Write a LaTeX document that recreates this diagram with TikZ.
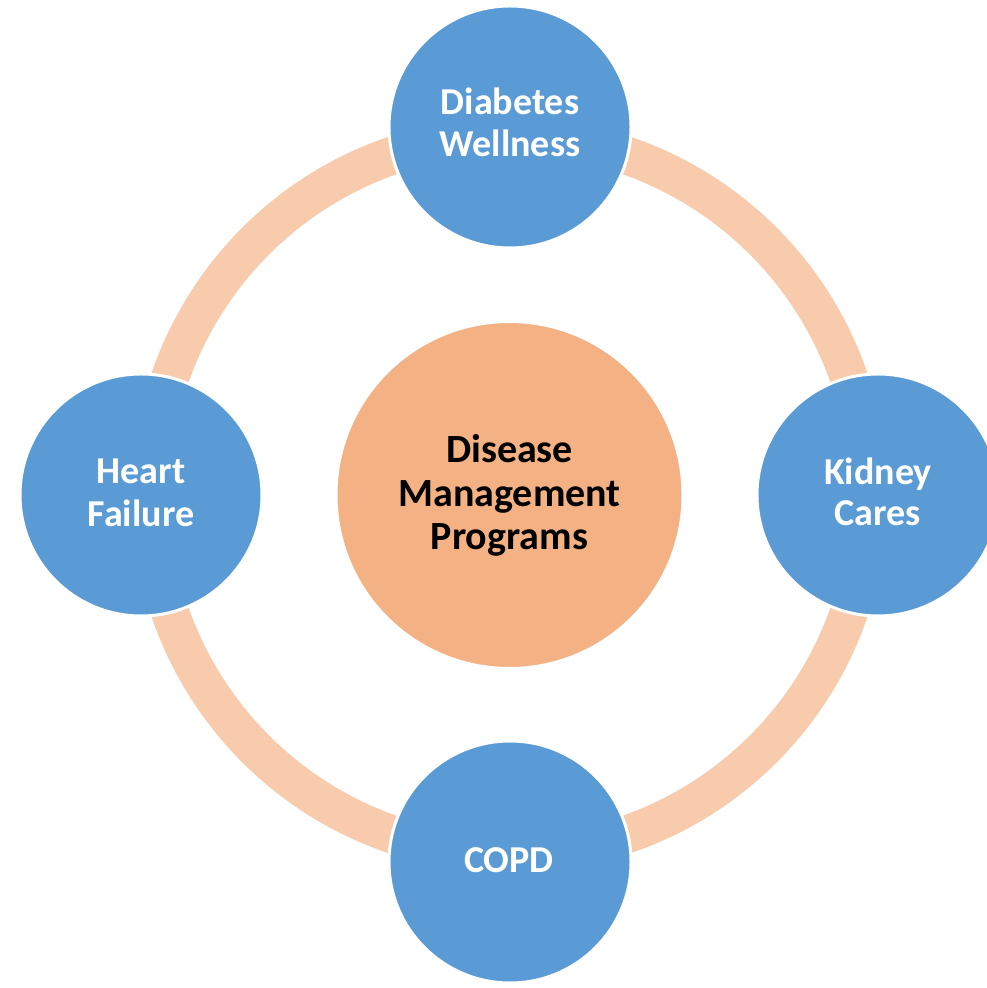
\documentclass[tikz,border=0pt]{standalone}
\usepackage{fontspec}
\setmainfont{Carlito}
\definecolor{ringc}{HTML}{F8CBAD}
\definecolor{bluec}{HTML}{5B9BD5}
\definecolor{orangec}{HTML}{F4B183}
\begin{document}
\begin{tikzpicture}[x=1pt,y=1pt,
  sat/.style={circle, fill=bluec, draw=white, line width=3pt, minimum size=242pt, inner sep=0pt},
  hub/.style={circle, fill=orangec, draw=white, line width=3pt, minimum size=347pt, inner sep=0pt},
  wlbl/.style={anchor=base, text=white, font=\fontsize{38}{42}\selectfont\bfseries, inner sep=0pt},
  blbl/.style={anchor=base, text=black, font=\fontsize{40}{44}\selectfont\bfseries, inner sep=0pt}]
\useasboundingbox (0,0) rectangle (987,988);
\coordinate (o) at (509.5,493);
\draw[ringc, line width=38pt] (o) circle[radius=359];
\node[hub] (hub) at (o) {};
\node[sat] (top) at (510,861) {};
\node[sat] (bot) at (510,126) {};
\node[sat] (lft) at (141,493) {};
\node[sat] (rgt) at (878,493) {};
% labels
\node[wlbl] (t1) at (510,873) {Diabetes};
\node[wlbl] (t2) at (510,831) {Wellness};
\node[wlbl] (l1) at (141,504) {Heart};
\node[wlbl] (l2) at (141,461) {Failure};
\node[wlbl] (r1) at (878,503) {Kidney};
\node[wlbl] (r2) at (878,462) {Cares};
\node[wlbl] (b1) at (509,115) {COPD};
\node[blbl] (h1) at (509.5,525) {Disease};
\node[blbl] (h2) at (509.5,481) {Management};
\node[blbl] (h3) at (509.5,438) {Programs};
\end{tikzpicture}
\end{document}
